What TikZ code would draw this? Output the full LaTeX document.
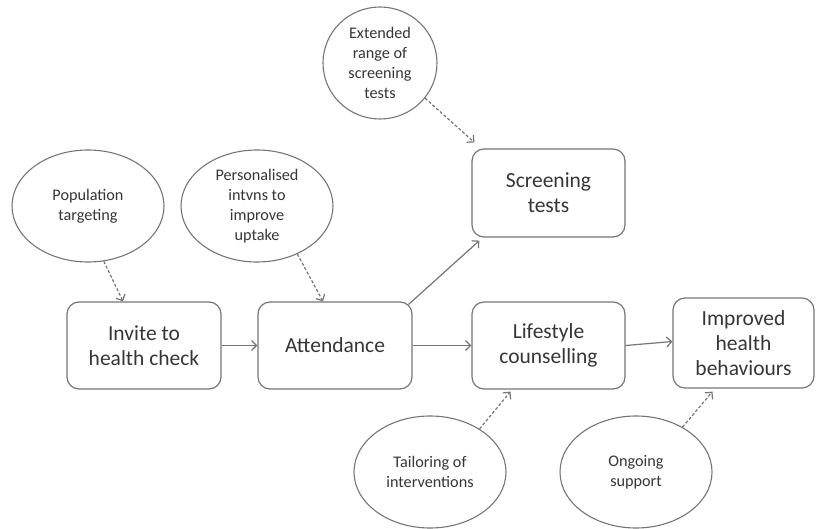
\documentclass[tikz,border=0pt]{standalone}
\usepackage{fontspec}
\setmainfont{Carlito}
\usetikzlibrary{shapes.geometric,arrows.meta}
\definecolor{edgegray}{HTML}{767676}
\definecolor{textgray}{HTML}{363636}
\begin{document}
\begin{tikzpicture}[x=1pt,y=-1pt,
  stage/.style={draw=edgegray, line width=1.2pt, rounded corners=12pt,
    text=textgray, align=center, inner sep=2pt,
    font=\fontsize{21.5}{25}\selectfont},
  factor/.style={ellipse, draw=edgegray, line width=1.1pt, text=textgray,
    align=center, inner sep=0pt, minimum width=152pt, minimum height=112pt,
    font=\fontsize{16.2}{20}\selectfont},
  flow/.style={draw=edgegray, line width=1.2pt,
    -{Straight Barb[length=5pt,width=10pt,line width=1.2pt]}},
  support/.style={draw=edgegray, line width=1.2pt, dash pattern=on 3pt off 2pt,
    -{Straight Barb[length=5pt,width=10pt,line width=1.2pt]}}]
\fill[white] (0,0) rectangle (817,529);
\useasboundingbox (0,0) rectangle (817,529);

% main pathway
\node[stage, minimum width=154pt, minimum height=87pt] (invite) at (144,345.5) {Invite to\\health check};
\node[stage, minimum width=154pt, minimum height=87pt] (attend) at (335,345.5) {Attendance};
\node[stage, minimum width=153pt, minimum height=88pt] (screen) at (548.5,193) {Screening\\tests};
\node[stage, minimum width=153pt, minimum height=87pt] (life) at (548.5,345.5) {Lifestyle\\counselling};
\node[stage, minimum width=141pt, minimum height=90pt] (improve) at (743.5,343) {Improved\\health\\behaviours};

% contributing factors
\node[factor] (pop) at (88,206) {Population\\targeting};
\node[factor] (pers) at (257,206) {Personalised\\intvns to\\improve\\uptake};
\node[factor, minimum width=114pt] (ext) at (380,63) {Extended\\range of\\screening\\tests};
\node[factor] (tailor) at (430,472) {Tailoring of\\interventions};
\node[factor] (ongoing) at (636,472) {Ongoing\\support};

% flow arrows
\draw[flow] (invite.east) -- (attend.west);
\draw[flow] (attend.east) -- (life.west);
\draw[flow] (life.east) -- ([yshift=1.5pt]improve.west);
\draw[flow] ([xshift=-4pt,yshift=-3pt]attend.north east) -- ([xshift=8pt,yshift=-3pt]screen.south west);

% dashed influence arrows
\draw[support] (pop.-74) -- ([xshift=-21pt]invite.north);
\draw[support] (pers.-50) -- ([xshift=-12pt]attend.north);
\draw[support] (ext.-38) -- ([xshift=3pt,yshift=6pt]screen.north west);
\draw[support] (tailor.41) -- ([xshift=-38pt,yshift=-2pt]life.south);
\draw[support] (ongoing.44) -- ([xshift=-31pt,yshift=-3pt]improve.south);
\end{tikzpicture}
\end{document}
